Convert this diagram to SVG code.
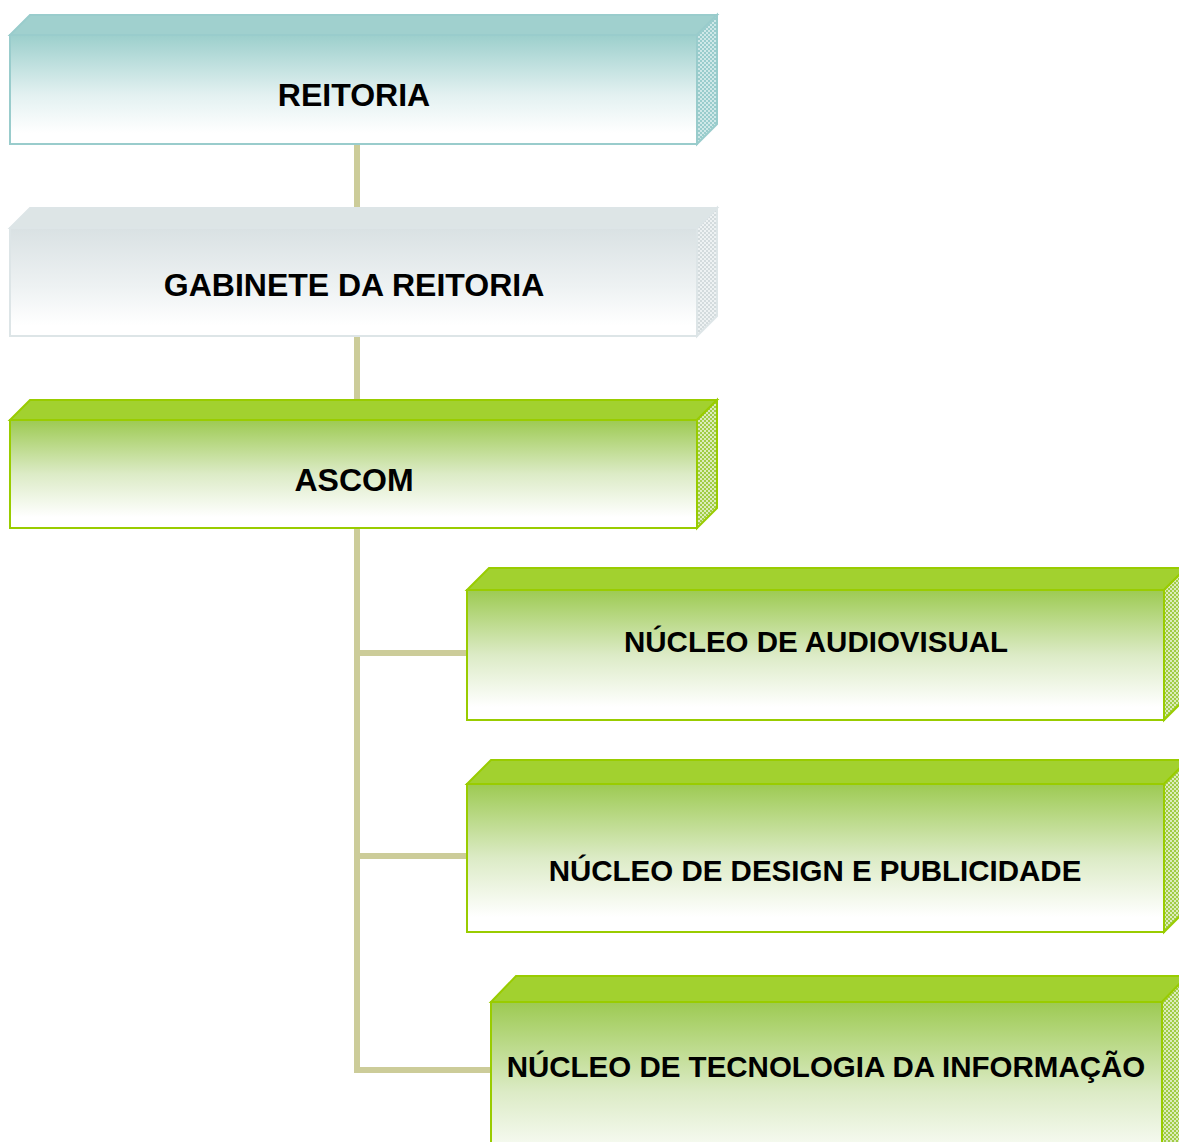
<svg xmlns="http://www.w3.org/2000/svg" width="1179" height="1142" viewBox="0 0 1179 1142">
<defs>
<linearGradient id="gTeal" x1="0" y1="0" x2="0" y2="1"><stop offset="0" stop-color="#9ccfcc"/><stop offset="0.55" stop-color="#e3f1f1"/><stop offset="0.9" stop-color="#ffffff"/></linearGradient>
<linearGradient id="gGrey" x1="0" y1="0" x2="0" y2="1"><stop offset="0" stop-color="#d9e1e3"/><stop offset="0.55" stop-color="#eef2f3"/><stop offset="0.9" stop-color="#ffffff"/></linearGradient>
<linearGradient id="gGreen" x1="0" y1="0" x2="0" y2="1"><stop offset="0" stop-color="#9dca52"/><stop offset="0.5" stop-color="#dcebc6"/><stop offset="0.9" stop-color="#ffffff"/></linearGradient>
<pattern id="pTeal" width="4" height="4" patternUnits="userSpaceOnUse"><rect width="4" height="4" fill="#cfe8e8"/><rect width="2" height="2" fill="#99cccc"/><rect x="2" y="2" width="2" height="2" fill="#99cccc"/></pattern>
<pattern id="pGrey" width="4" height="4" patternUnits="userSpaceOnUse"><rect width="4" height="4" fill="#eef2f3"/><rect width="2" height="2" fill="#d3dbdd"/><rect x="2" y="2" width="2" height="2" fill="#d3dbdd"/></pattern>
<pattern id="pGreen" width="4" height="4" patternUnits="userSpaceOnUse"><rect width="4" height="4" fill="#dcecbc"/><rect width="2" height="2" fill="#a0cc45"/><rect x="2" y="2" width="2" height="2" fill="#a0cc45"/></pattern>
</defs>
<style>
.teal{stroke:#99cccc;stroke-width:2}
.grey{stroke:#dde5e7;stroke-width:2}
.green{stroke:#99cc00;stroke-width:2}
.tTeal{fill:#a0d0ce}
.tGrey{fill:#dde5e6}
.tGreen{fill:#a2d12f}
.lbl{font-family:"Liberation Sans",Arial,sans-serif;font-weight:bold;fill:#000;text-anchor:middle}
.big{font-size:32px}
.small{font-size:29.5px}
.conn{stroke:#cccc99;stroke-width:6;fill:none}
</style>
<g id="connectors">
<line class="conn" x1="357" y1="144" x2="357" y2="228"/>
<line class="conn" x1="357" y1="336" x2="357" y2="420"/>
<polyline class="conn" points="357,528 357,1070 491,1070"/>
<line class="conn" x1="357" y1="653" x2="467" y2="653"/>
<line class="conn" x1="357" y1="856" x2="467" y2="856"/>
</g>
<g id="reitoria">
<polygon class="teal tTeal" points="10,35 30,15 717,15 697,35"/>
<polygon class="teal" fill="url(#pTeal)" points="697,35 717,15 717,124 697,144"/>
<rect class="teal" x="10" y="35" width="687" height="109" fill="url(#gTeal)"/>
<text class="lbl big" x="354" y="106">REITORIA</text>
</g>
<g id="gabinete">
<polygon class="grey tGrey" points="10,228 30,208 717,208 697,228"/>
<polygon class="grey" fill="url(#pGrey)" points="697,228 717,208 717,316 697,336"/>
<rect class="grey" x="10" y="228" width="687" height="108" fill="url(#gGrey)"/>
<text class="lbl big" x="354" y="296">GABINETE DA REITORIA</text>
</g>
<g id="ascom">
<polygon class="green tGreen" points="10,420 30,400 717,400 697,420"/>
<polygon class="green" fill="url(#pGreen)" points="697,420 717,400 717,508 697,528"/>
<rect class="green" x="10" y="420" width="687" height="108" fill="url(#gGreen)"/>
<text class="lbl big" x="354" y="491">ASCOM</text>
</g>
<g id="audiovisual">
<polygon class="green tGreen" points="467,590 489,568 1186,568 1164,590"/>
<polygon class="green" fill="url(#pGreen)" points="1164,590 1186,568 1186,698 1164,720"/>
<rect class="green" x="467" y="590" width="697" height="130" fill="url(#gGreen)"/>
<text class="lbl small" x="816" y="652">NÚCLEO DE AUDIOVISUAL</text>
</g>
<g id="design">
<polygon class="green tGreen" points="467,784 491,760 1188,760 1164,784"/>
<polygon class="green" fill="url(#pGreen)" points="1164,784 1188,760 1188,908 1164,932"/>
<rect class="green" x="467" y="784" width="697" height="148" fill="url(#gGreen)"/>
<text class="lbl small" x="815" y="881">NÚCLEO DE DESIGN E PUBLICIDADE</text>
</g>
<g id="tecnologia">
<polygon class="green tGreen" points="491,1002 516,976 1187,976 1162,1002"/>
<polygon class="green" fill="url(#pGreen)" points="1162,1002 1187,976 1187,1140 1162,1166"/>
<rect class="green" x="491" y="1002" width="671" height="180" fill="url(#gGreen)"/>
<text class="lbl small" x="826" y="1077">NÚCLEO DE TECNOLOGIA DA INFORMAÇÃO</text>
</g>
</svg>
